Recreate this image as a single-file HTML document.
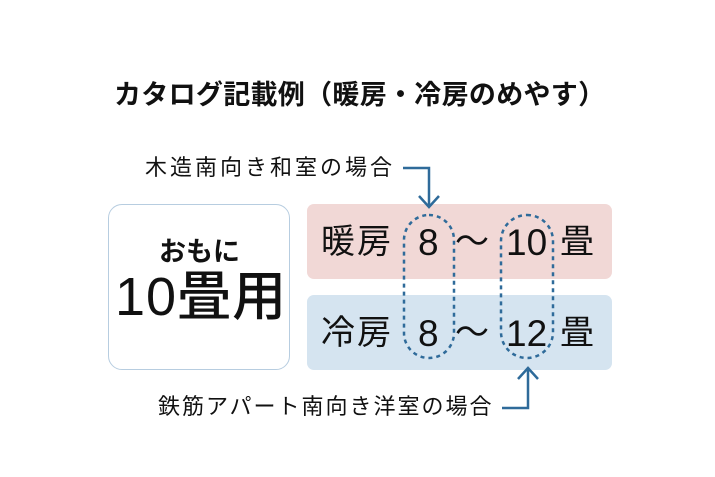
<!DOCTYPE html><html><head><meta charset="utf-8"><style>
body{margin:0;width:715px;height:477px;background:#fff;position:relative;font-family:"Liberation Sans","Noto Sans CJK JP",sans-serif;color:#111;overflow:hidden}
.a{position:absolute;white-space:nowrap;line-height:1}
</style></head><body>
<div class="a" style="left:114px;top:82px;font-size:27px;font-weight:bold;letter-spacing:0.3px">カタログ記載例（暖房・冷房のめやす）</div>
<div style="position:absolute;left:108px;top:204px;width:180px;height:164px;border:1.5px solid #b7cde0;border-radius:14px"></div>
<div class="a" style="left:159px;top:239px;font-size:27px;font-weight:bold">おもに</div>
<div class="a" style="left:115px;top:270px;font-size:54px;font-weight:500;letter-spacing:1px">10畳用</div>
<div style="position:absolute;left:307px;top:204px;width:305px;height:75px;background:#f1d8d6;border-radius:7px"></div>
<div style="position:absolute;left:307px;top:295px;width:305px;height:75px;background:#d5e4f0;border-radius:7px"></div>
<div class="a" style="left:321px;top:225px;font-size:34px;letter-spacing:2px">暖房</div>
<div class="a" style="left:418px;top:224px;font-size:37px">8</div>
<div class="a" style="left:455px;top:225px;font-size:34px">〜</div>
<div class="a" style="left:506px;top:224px;font-size:37px">10</div>
<div class="a" style="left:560px;top:225px;font-size:34px">畳</div>
<div class="a" style="left:321px;top:316px;font-size:34px;letter-spacing:2px">冷房</div>
<div class="a" style="left:418px;top:315px;font-size:37px">8</div>
<div class="a" style="left:455px;top:316px;font-size:34px">〜</div>
<div class="a" style="left:506px;top:315px;font-size:37px">12</div>
<div class="a" style="left:560px;top:316px;font-size:34px">畳</div>
<div class="a" style="left:145px;top:157px;font-size:22px;letter-spacing:3px">木造南向き和室の場合</div>
<div class="a" style="left:158px;top:396px;font-size:22px;letter-spacing:2px">鉄筋アパート南向き洋室の場合</div>
<svg width="715" height="477" style="position:absolute;left:0;top:0">
<rect x="404" y="215" width="50" height="143" rx="25" fill="none" stroke="#2f6b9a" stroke-width="2.5" stroke-dasharray="4 4"/>
<rect x="501" y="215" width="52" height="143" rx="26" fill="none" stroke="#2f6b9a" stroke-width="2.5" stroke-dasharray="4 4"/>
<polyline points="403,168 429,168 429,207" fill="none" stroke="#2f6b9a" stroke-width="2.5"/>
<polyline points="419,196 429,207 439,196" fill="none" stroke="#2f6b9a" stroke-width="2.5"/>
<polyline points="502,408 528,408 528,368" fill="none" stroke="#2f6b9a" stroke-width="2.5"/>
<polyline points="518,379 528,368 538,379" fill="none" stroke="#2f6b9a" stroke-width="2.5"/>
</svg>
</body></html>
